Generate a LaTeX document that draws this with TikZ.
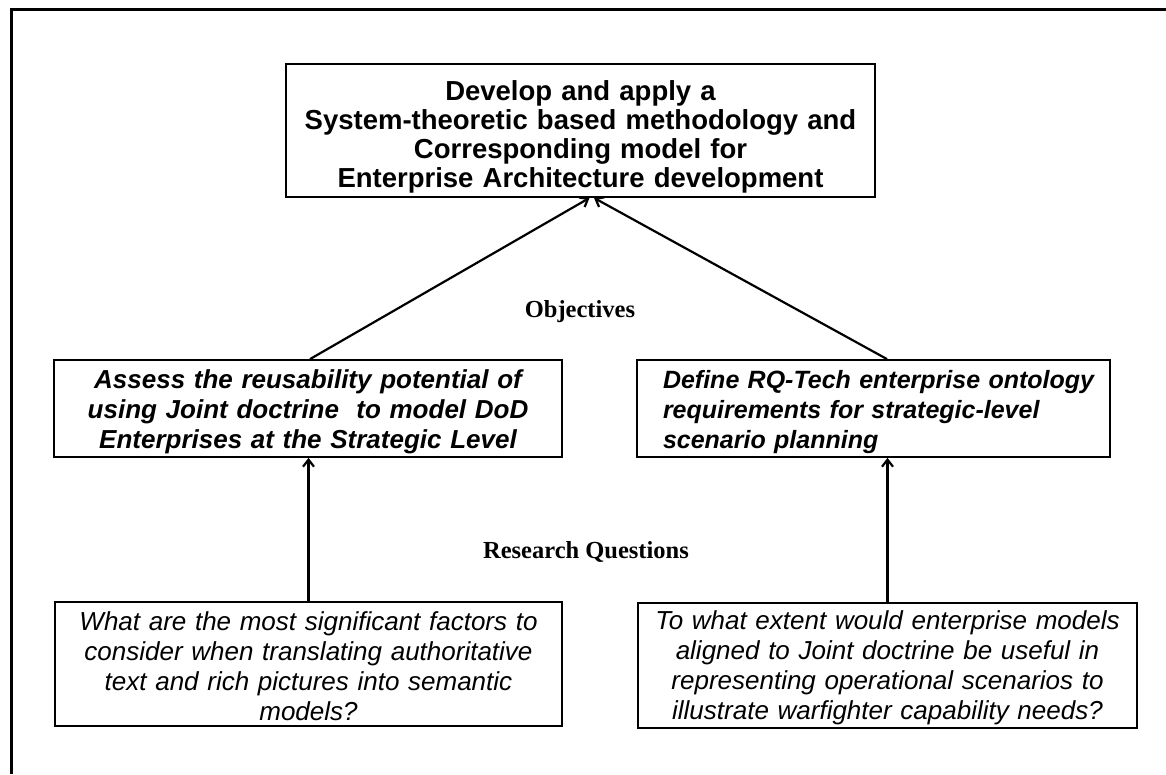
\documentclass[tikz,border=0pt]{standalone}
\usepackage{fontspec}
\setmainfont{Liberation Serif}
\setsansfont{Liberation Sans}
\usetikzlibrary{arrows.meta}

\begin{document}
\begin{tikzpicture}[x=1pt,y=-1pt,
  box/.style={draw, line width=1.8pt, inner ysep=0pt, align=center},
  goalfont/.style={font=\fontsize{27.5}{29}\selectfont\sffamily\bfseries},
  objfont/.style={font=\fontsize{26}{30}\selectfont\sffamily\bfseries\itshape},
  objfontnarrow/.style={font=\fontsize{25}{30}\selectfont\sffamily\bfseries\itshape},
  qfont/.style={font=\fontsize{26}{30}\selectfont\sffamily\itshape},
  lbl/.style={font=\fontsize{24.5}{28}\selectfont\bfseries, inner sep=0pt},
  conn/.style={line width=2.2pt},
  arr/.style={conn, -{Straight Barb[length=7pt,width=11pt]}}]

\useasboundingbox (0,0) rectangle (1166,774);
\fill[white] (0,0) rectangle (1166,774);

% outer frame (only top and left edges)
\draw[line width=3pt] (11.5,774) -- (11.5,9.5) -- (1166,9.5);

% goal
\node[box, goalfont, inner xsep=14.5pt, text width=560pt, minimum height=133pt]
  (top) at (580.5,130.5)
  {\rule{0pt}{32pt}Develop and apply a\\System-theoretic based methodology and\\Corresponding model for\\Enterprise Architecture development};

% objectives
\node[box, objfont, inner xsep=10pt, text width=488pt, minimum height=97pt]
  (lo) at (308,408.5)
  {\rule{0pt}{26pt}Assess the reusability potential of\\using Joint doctrine\ \ to model DoD\\Enterprises at the Strategic Level};
\node[box, objfontnarrow, align=left, inner xsep=26pt, text width=421pt, minimum height=97pt]
  (ro) at (873.5,408.5)
  {\rule{0pt}{26pt}\mbox{Define RQ-Tech enterprise ontology}\\\mbox{requirements for strategic-level}\\\mbox{scenario planning}};

% research questions
\node[box, qfont, inner xsep=10pt, text width=487pt, minimum height=124pt]
  (bl) at (308.5,664)
  {\rule{0pt}{24pt}What are the most significant factors to\\consider when translating authoritative\\text and rich pictures into semantic\\models?};
\node[box, qfont, inner xsep=10pt, text width=479pt, minimum height=125pt]
  (br) at (887.5,665.5)
  {\rule{0pt}{24pt}To what extent would enterprise models\\aligned to Joint doctrine be useful in\\representing operational scenarios to\\illustrate warfighter capability needs?};

% labels
\node[lbl] (objlbl) at (580,312) {Objectives};
\node[lbl] (rqlbl) at (586,552) {Research Questions};

% connectors
\draw[arr] ([xshift=2pt]lo.north) -- ([xshift=9pt]top.south);
\draw[arr] ([xshift=13.5pt]ro.north) -- ([xshift=13.5pt]top.south);
\draw[arr] (bl.north) -- (bl.north |- lo.south);
\draw[arr] (br.north) -- (br.north |- ro.south);
\end{tikzpicture}
\end{document}
